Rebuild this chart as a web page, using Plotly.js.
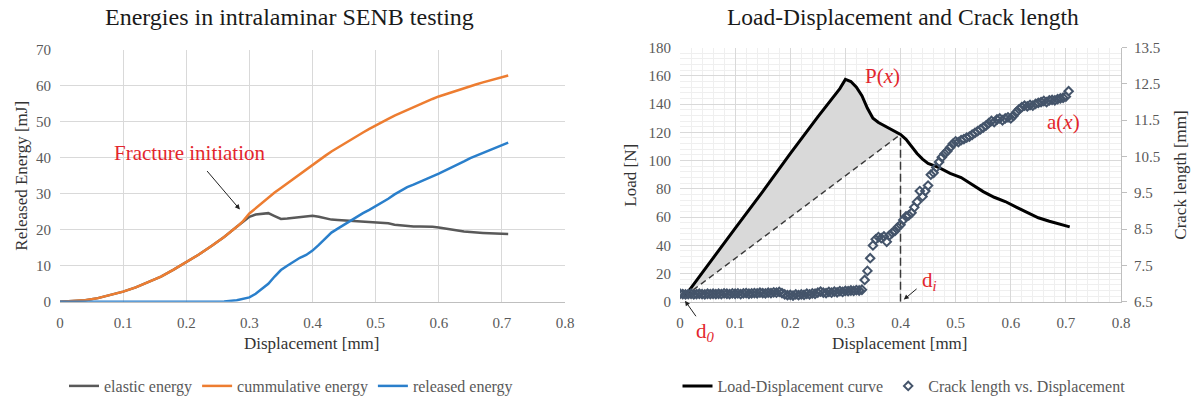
<!DOCTYPE html>
<html>
<head>
<meta charset="utf-8">
<script src="https://cdn.plot.ly/plotly-3.0.1.min.js"></script>
<style>html,body{margin:0;padding:0;background:#fff;}#chart{width:1192px;height:403px;}</style>
</head>
<body>
<div id="chart"></div>
<script>
// ---------- Left chart: energies ----------
const energyX = [0,0.02,0.04,0.06,0.08,0.1,0.12,0.14,0.16,0.18,0.2,0.22,0.24,0.26,0.28,0.29,0.3,0.31,0.32,0.33,0.34,0.35,0.36,0.37,0.38,0.39,0.4,0.41,0.42,0.43,0.44,0.45,0.46,0.47,0.48,0.49,0.5,0.51,0.52,0.53,0.54,0.55,0.56,0.57,0.58,0.59,0.6,0.61,0.62,0.63,0.64,0.65,0.66,0.67,0.68,0.69,0.7,0.71];
const elasticEnergy = [0,0.1,0.4,1.0,1.8,2.8,4.0,5.4,7.0,8.9,10.9,13.1,15.5,18.0,20.8,22.2,23.6,24.2,24.4,24.6,23.8,23.0,23.1,23.3,23.6,23.9,23.9,23.6,23.1,22.8,22.7,22.6,22.5,22.4,22.3,22.2,22.2,22.1,21.8,21.4,21.2,21.0,20.9,20.9,20.9,20.8,20.6,20.4,20.1,19.8,19.5,19.3,19.2,19.1,19.0,18.95,18.9,18.8];
const cumulativeEnergy = [0,0.1,0.4,1.0,1.8,2.8,4.0,5.4,7.0,8.9,10.9,13.1,15.5,18.0,20.8,22.4,24.5,26.0,27.5,28.9,30.3,31.6,32.9,34.2,35.5,36.8,38.1,39.3,40.5,41.7,42.8,43.9,45.0,46.0,47.0,48.0,49.0,49.9,50.8,51.7,52.5,53.3,54.1,54.9,55.6,56.3,57.0,57.6,58.2,58.8,59.4,59.9,60.4,60.9,61.4,61.9,62.4,62.8];
const releasedEnergy = [0,0,0,0,0,0,0,0,0,0,0,0,0,0.1,0.4,0.7,1.2,2.2,3.5,5.0,7.0,8.8,10.0,11.2,12.2,13.0,14.2,15.8,17.5,19.2,20.3,21.4,22.5,23.6,24.6,25.5,26.5,27.5,28.6,29.8,30.9,31.8,32.5,33.2,34.0,34.8,35.6,36.4,37.2,38.1,39.0,39.9,40.6,41.3,42.1,42.8,43.5,44.2];

// ---------- Right chart: load & crack length ----------
const loadX = [0.009,0.05,0.1,0.15,0.2,0.25,0.27,0.29,0.3,0.31,0.32,0.33,0.34,0.35,0.36,0.37,0.38,0.39,0.4,0.41,0.42,0.43,0.44,0.45,0.47,0.49,0.51,0.53,0.55,0.57,0.59,0.61,0.63,0.65,0.67,0.69,0.707];
const loadY = [4,26,52,78,105,131,141,151,157.5,156,152,146,137,130,127,125,123,121,118.5,115,110,105,101,98,95,91,88,83,78,74,71,67,63,59.5,57,55,53];

const crackX = [0,0.005,0.01,0.015,0.02,0.025,0.03,0.035,0.04,0.045,0.05,0.055,0.06,0.065,0.07,0.075,0.08,0.085,0.09,0.095,0.1,0.105,0.11,0.115,0.12,0.125,0.13,0.135,0.14,0.145,0.15,0.155,0.16,0.165,0.17,0.175,0.18,0.185,0.19,0.195,0.2,0.205,0.21,0.215,0.22,0.225,0.23,0.235,0.24,0.245,0.25,0.255,0.26,0.265,0.27,0.275,0.28,0.285,0.29,0.295,0.3,0.305,0.31,0.315,0.32,0.325,0.33,0.335,0.34,0.345,0.35,0.355,0.36,0.365,0.37,0.375,0.38,0.385,0.39,0.395,0.4,0.405,0.41,0.415,0.42,0.425,0.43,0.435,0.44,0.445,0.45,0.455,0.46,0.465,0.47,0.475,0.48,0.485,0.49,0.495,0.5,0.505,0.51,0.515,0.52,0.525,0.53,0.535,0.54,0.545,0.55,0.555,0.56,0.565,0.57,0.575,0.58,0.585,0.59,0.595,0.6,0.605,0.61,0.615,0.62,0.625,0.63,0.635,0.64,0.645,0.65,0.655,0.66,0.665,0.67,0.675,0.68,0.685,0.69,0.695,0.7,0.705];
const crackLen = [6.72,6.71,6.70,6.71,6.72,6.70,6.71,6.72,6.71,6.70,6.72,6.71,6.72,6.71,6.72,6.71,6.73,6.72,6.71,6.73,6.72,6.73,6.71,6.73,6.74,6.72,6.73,6.74,6.73,6.75,6.74,6.73,6.75,6.74,6.76,6.75,6.77,6.74,6.70,6.68,6.69,6.67,6.70,6.68,6.70,6.69,6.72,6.70,6.73,6.72,6.75,6.78,6.75,6.74,6.77,6.75,6.78,6.76,6.79,6.77,6.80,6.79,6.81,6.80,6.82,6.81,6.83,7.10,7.35,7.70,8.05,8.22,8.28,8.25,8.30,8.15,8.33,8.40,8.45,8.55,8.62,8.75,8.85,8.88,8.95,9.10,9.25,9.55,9.40,9.55,9.70,10.00,10.05,10.20,10.35,10.48,10.58,10.65,10.75,10.85,10.92,10.90,10.95,10.98,11.02,11.05,11.10,11.15,11.20,11.25,11.30,11.35,11.42,11.48,11.45,11.52,11.55,11.50,11.55,11.58,11.55,11.62,11.72,11.80,11.86,11.90,11.88,11.92,11.90,11.95,11.98,12.00,12.03,12.00,12.05,12.06,12.05,12.08,12.10,12.12,12.15,12.30];

const initiationX = 0.4; // displacement d_i

// ---------- build helpers from data ----------
const iInit = loadX.indexOf(initiationX);
const fillX = loadX.slice(0, iInit + 1).concat([loadX[0]]);
const fillY = loadY.slice(0, iInit + 1).concat([loadY[0]]);

const FONT = 'Liberation Serif';
const RED = '#e3262c';
const TICKC = '#595959';

const traces = [
  {x: energyX, y: elasticEnergy, type: 'scatter', mode: 'lines', name: 'elastic energy',
   line: {color: '#595959', width: 2.5}, xaxis: 'x', yaxis: 'y', legend: 'legend'},
  {x: energyX, y: cumulativeEnergy, type: 'scatter', mode: 'lines', name: 'cummulative energy',
   line: {color: '#ed7d31', width: 2.5}, xaxis: 'x', yaxis: 'y', legend: 'legend'},
  {x: energyX, y: releasedEnergy, type: 'scatter', mode: 'lines', name: 'released energy',
   line: {color: '#2a7fcb', width: 2.5}, xaxis: 'x', yaxis: 'y', legend: 'legend'},

  {x: fillX, y: fillY, type: 'scatter', mode: 'lines', fill: 'toself', fillcolor: '#d9d9d9',
   line: {width: 0, color: 'rgba(0,0,0,0)'}, showlegend: false, hoverinfo: 'skip', xaxis: 'x2', yaxis: 'y2'},
  {x: [loadX[0], loadX[iInit]], y: [loadY[0], loadY[iInit]], type: 'scatter', mode: 'lines',
   line: {color: '#3a3a3a', width: 1.5, dash: '6px,4px'}, showlegend: false, xaxis: 'x2', yaxis: 'y2'},
  {x: [loadX[iInit], loadX[iInit]], y: [0, loadY[iInit]], type: 'scatter', mode: 'lines',
   line: {color: '#3a3a3a', width: 1.5, dash: '8px,4px'}, showlegend: false, xaxis: 'x2', yaxis: 'y2'},
  {x: loadX, y: loadY, type: 'scatter', mode: 'lines', name: 'Load-Displacement curve',
   line: {color: '#000000', width: 3}, xaxis: 'x2', yaxis: 'y2', legend: 'legend2'},
  {x: crackX, y: crackLen, type: 'scatter', mode: 'markers', name: 'Crack length vs. Displacement',
   marker: {symbol: 'diamond-open', size: 6.5, color: '#44546a', line: {width: 2, color: '#44546a'}},
   xaxis: 'x2', yaxis: 'y3', legend: 'legend2'}
];

const W = 1192, H = 403;
const px = v => v / W, py = v => 1 - v / H;

function tf() { return {family: FONT, size: 15, color: TICKC}; }

const axisCommon = {
  showgrid: true, gridcolor: '#d9d9d9', gridwidth: 1, zeroline: false,
  ticks: '', fixedrange: true
};

function lbl(text, x, y, size, color, extra) {
  return Object.assign({text: text, xref: 'paper', yref: 'paper', x: px(x), y: py(y),
    xanchor: 'center', yanchor: 'middle', showarrow: false,
    font: {family: FONT, size: size, color: color}}, extra || {});
}

const layout = {
  width: W, height: H, margin: {l: 0, r: 0, t: 0, b: 0},
  paper_bgcolor: '#ffffff', plot_bgcolor: '#ffffff',
  font: {family: FONT, size: 15, color: TICKC},
  showlegend: true,
  xaxis: Object.assign({}, axisCommon, {domain: [px(60), px(565)], range: [0, 0.8], dtick: 0.1, tick0: 0,
    anchor: 'y', showline: true, linecolor: '#bfbfbf', ticklabelstandoff: 7, tickfont: tf()}),
  yaxis: Object.assign({}, axisCommon, {domain: [py(304), py(50)], range: [0, 70], dtick: 10, tick0: 0,
    anchor: 'x', ticklabelstandoff: 8, tickfont: tf()}),
  xaxis2: Object.assign({}, axisCommon, {domain: [px(680), px(1121)], range: [0, 0.8], dtick: 0.1, tick0: 0,
    anchor: 'y2', showline: true, linecolor: '#bfbfbf', ticklabelstandoff: 7, tickfont: tf(),
    minor: {dtick: 0.02, showgrid: true, gridcolor: '#efefef', gridwidth: 1}}),
  yaxis2: Object.assign({}, axisCommon, {domain: [py(304), py(48)], range: [0, 180], dtick: 20, tick0: 0,
    anchor: 'x2', ticklabelstandoff: 8, tickfont: tf(),
    minor: {dtick: 4, showgrid: true, gridcolor: '#efefef', gridwidth: 1}}),
  yaxis3: {domain: [py(304), py(48)], range: [6.5, 13.5], dtick: 1, tick0: 6.5, overlaying: 'y2', side: 'right',
    anchor: 'x2', showgrid: false, zeroline: false, showline: true, linecolor: '#bfbfbf',
    ticks: 'outside', ticklen: 5, tickcolor: '#bfbfbf', ticklabelstandoff: 4,
    tickfont: tf(), tickformat: '.1f', fixedrange: true},
  legend: {orientation: 'h', x: px(291), xanchor: 'center', y: py(389), yanchor: 'middle',
    font: {family: FONT, size: 16, color: TICKC}, itemwidth: 30, bgcolor: 'rgba(0,0,0,0)'},
  legend2: {orientation: 'h', x: px(904), xanchor: 'center', y: py(389), yanchor: 'middle',
    font: {family: FONT, size: 16, color: TICKC}, itemwidth: 30, bgcolor: 'rgba(0,0,0,0)'},
  annotations: [
    lbl('Energies in intralaminar SENB testing', 289, 17, 24, '#1a1a1a'),
    lbl('Load-Displacement and Crack length', 903, 17, 23.5, '#1a1a1a'),
    lbl('Released Energy [mJ]', 22, 177, 17, '#333', {textangle: -90}),
    lbl('Displacement [mm]', 312, 346, 17, '#333'),
    lbl('Load [N]', 631, 177, 17, '#333', {textangle: -90}),
    lbl('Displacement [mm]', 900, 346, 17, '#333'),
    lbl('Crack length [mm]', 1181, 177, 17, '#333', {textangle: -90}),

    {text: 'Fracture initiation', xref: 'x', yref: 'y', x: 0.206, y: 41.2, showarrow: false,
     xanchor: 'center', yanchor: 'middle', font: {family: FONT, size: 21, color: RED}},
    {text: '', xref: 'x', yref: 'y', x: 0.285, y: 25.6, axref: 'x', ayref: 'y', ax: 0.231, ay: 36.7,
     showarrow: true, arrowhead: 2, arrowsize: 1, arrowwidth: 1, arrowcolor: '#222'},

    {text: 'P(<i>x</i>)', xref: 'x2', yref: 'y2', x: 0.368, y: 160, showarrow: false,
     xanchor: 'center', yanchor: 'middle', font: {family: FONT, size: 21, color: RED}},
    {text: 'a(<i>x</i>)', xref: 'x2', yref: 'y2', x: 0.695, y: 127, showarrow: false,
     xanchor: 'center', yanchor: 'middle', font: {family: FONT, size: 21, color: RED}},
    lbl('d<sub><i>0</i></sub>', 706, 334, 21, RED),
    {text: '', xref: 'paper', yref: 'paper', x: px(685), y: py(303), ax: 12, ay: 17,
     showarrow: true, arrowhead: 2, arrowsize: 1, arrowwidth: 1, arrowcolor: '#222'},
    {text: 'd<sub><i>i</i></sub>', xref: 'x2', yref: 'y2', x: 0.452, y: 15, showarrow: false,
     xanchor: 'center', yanchor: 'middle', font: {family: FONT, size: 21, color: RED}},
    {text: '', xref: 'x2', yref: 'y2', x: 0.406, y: 1.5, axref: 'x2', ayref: 'y2', ax: 0.432, ay: 10,
     showarrow: true, arrowhead: 2, arrowsize: 1, arrowwidth: 1, arrowcolor: '#222'}
  ]
};

Plotly.newPlot('chart', traces, layout, {staticPlot: true, displayModeBar: false});
</script>
</body>
</html>
